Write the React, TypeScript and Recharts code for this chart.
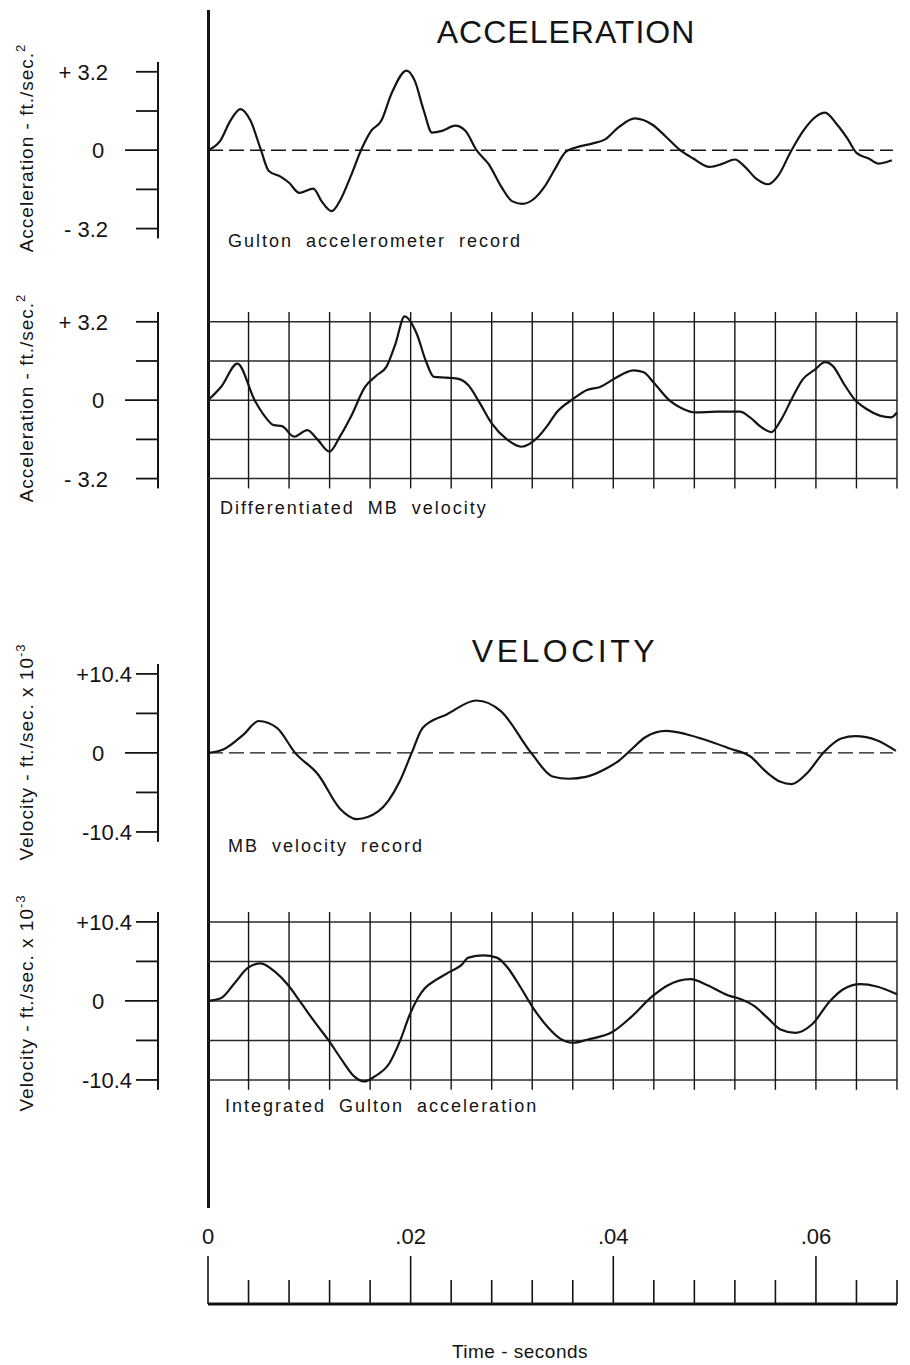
import { LineChart, Line, XAxis, YAxis, ReferenceLine } from "recharts"

const FONT = '"Liberation Sans", Arial, sans-serif'
const INK = "#141414"

// time in seconds
const gultonTime = [
  0, 0.0012, 0.0022, 0.0032, 0.0042, 0.0052, 0.006, 0.0072, 0.008, 0.009, 0.0104, 0.0112, 0.0122, 0.0131,
  0.0141, 0.0151, 0.0161, 0.0171, 0.0181, 0.0196, 0.0204, 0.0213, 0.0221, 0.0231, 0.0244, 0.0254, 0.0265,
  0.0277, 0.029, 0.03, 0.031, 0.0323, 0.0332, 0.0342, 0.0353, 0.0363, 0.0379, 0.0392, 0.0406, 0.0421,
  0.0439, 0.0452, 0.0466, 0.0479, 0.0495, 0.0508, 0.052, 0.053, 0.0541, 0.0553, 0.0563, 0.0575, 0.0588,
  0.06, 0.0609, 0.062, 0.0631, 0.064, 0.0652, 0.0662, 0.067, 0.0675,
]
const gultonAccel = [
  0, 0.38, 1.2, 1.68, 1.2, 0.04, -0.85, -1.09, -1.33, -1.74, -1.57, -2.08, -2.49, -2.0,
  -1.05, 0, 0.79, 1.2, 2.3, 3.25, 2.84, 1.61, 0.72, 0.79, 1.0, 0.79, 0,
  -0.57, -1.53, -2.08, -2.19, -1.94, -1.5, -0.8, -0.07, 0.11, 0.27, 0.44, 0.96, 1.3,
  1.03, 0.55, 0, -0.34, -0.68, -0.55, -0.38, -0.68, -1.16, -1.39, -1.03, -0.07, 0.82,
  1.37, 1.53, 1.09, 0.48, -0.11, -0.34, -0.55, -0.48, -0.41,
]

const mbDiffTime = [
  0, 0.0013, 0.0029, 0.0046, 0.0055, 0.0065, 0.0073, 0.0085, 0.0098, 0.0108, 0.012, 0.013, 0.0141,
  0.0155, 0.0166, 0.0176, 0.0185, 0.0194, 0.0206, 0.0215, 0.0223, 0.0235, 0.0246, 0.0257, 0.0268,
  0.028, 0.0295, 0.0309, 0.0326, 0.0335, 0.0344, 0.036, 0.0374, 0.0387, 0.04, 0.042, 0.043, 0.044,
  0.0456, 0.0469, 0.0481, 0.0502, 0.0525, 0.0535, 0.0546, 0.0556, 0.0566, 0.0576, 0.0587, 0.0599,
  0.0609, 0.0617, 0.0627, 0.0638, 0.065, 0.0663, 0.0674, 0.068,
]
const mbDiffAccel = [
  0, 0.55, 1.49, 0, -0.6, -1.02, -1.06, -1.49, -1.22, -1.6, -2.1, -1.5, -0.68,
  0.54, 1.0, 1.36, 2.3, 3.42, 2.71, 1.6, 0.95, 0.92, 0.88, 0.61, -0.1,
  -0.95, -1.6, -1.9, -1.49, -1.04, -0.5, 0.04, 0.42, 0.54, 0.85, 1.22, 1.14, 0.71,
  -0.03, -0.36, -0.5, -0.47, -0.47, -0.7, -1.1, -1.3, -0.77, 0.04, 0.85, 1.25,
  1.55, 1.38, 0.71, 0.04, -0.36, -0.63, -0.7, -0.5,
]

const mbVelTime = [
  0, 0.0015, 0.0035, 0.005, 0.0068, 0.0086, 0.0109, 0.013, 0.0147, 0.0168, 0.0189, 0.0201, 0.0212,
  0.0236, 0.0265, 0.0289, 0.0319, 0.034, 0.0356, 0.0373, 0.0393, 0.0406, 0.0417, 0.0432, 0.0452,
  0.0472, 0.0492, 0.0515, 0.0535, 0.0551, 0.0565, 0.0576, 0.0591, 0.0608, 0.0625, 0.0639, 0.066, 0.0679,
]
const mbVelocity = [
  0, 0.44, 2.4, 4.2, 3.3, 0, -2.9, -7.3, -8.7, -7.7, -3.8, 0, 3.3,
  5.1, 6.9, 5.5, 0, -3.1, -3.4, -3.16, -2.06, -0.97, 0.35, 2.1, 2.9,
  2.46, 1.67, 0.57, -0.44, -2.5, -3.8, -4.1, -2.7, 0.13, 1.9, 2.2, 1.67, 0.26,
]

const intTime = [
  0, 0.00126, 0.0026, 0.0039, 0.0052, 0.0066, 0.0079, 0.0092, 0.0106, 0.0119, 0.0132, 0.0144, 0.0154,
  0.0165, 0.0179, 0.019, 0.0199, 0.0207, 0.0214, 0.0225, 0.0239, 0.025, 0.0257, 0.0272, 0.0285,
  0.0295, 0.0308, 0.032, 0.0335, 0.0348, 0.036, 0.0375, 0.0399, 0.0417, 0.0439, 0.0454, 0.0476,
  0.0493, 0.0513, 0.0526, 0.0539, 0.0552, 0.0565, 0.058, 0.0596, 0.0614, 0.0627, 0.0644, 0.066, 0.068,
]
const intVelocity = [
  0, 0.35, 2.3, 4.3, 4.95, 3.85, 2.1, -0.3, -2.9, -5.2, -7.75, -9.9, -10.6,
  -9.9, -8.2, -5.1, -1.84, 0.35, 1.66, 2.76, 3.85, 4.7, 5.7, 6.0, 5.7,
  4.5, 1.9, -0.74, -3.4, -5.0, -5.5, -5.07, -4.1, -2.2, 0.66, 2.07, 2.86,
  2.07, 0.75, 0.22, -0.66, -2.2, -3.75, -4.2, -3.1, 0, 1.54, 2.2, 1.9, 0.88,
]

const accelTicks = [-3.2, -1.6, 0, 1.6, 3.2]
const accelTickLabels = ["- 3.2", "", "0", "", "+ 3.2"]
const velTicks = [-10.4, -5.2, 0, 5.2, 10.4]
const velTickLabels = ["-10.4", "", "0", "", "+10.4"]

const gridTimes = [
  0.004, 0.008, 0.012, 0.016, 0.02, 0.024, 0.028, 0.032, 0.036, 0.04, 0.044, 0.048, 0.052, 0.056, 0.06,
  0.064, 0.068,
]
const timeTicks = [0, ...gridTimes]
const timeMajor = [0, 0.02, 0.04, 0.06]
const timeLabels = ["0", ".02", ".04", ".06"]
const T_END = 0.068

const PLOT_LEFT = 158
const ZERO_X = 208
const PLOT_RIGHT = 897
const PAD = 12

function YTick(props: any) {
  const { x, y, payload, ticks, labels, labelEnd } = props
  const i = ticks.findIndex((t: number) => Math.abs(t - payload.value) < 1e-9)
  const label = labels[i]
  const len = payload.value === 0 ? 33 : 22
  return (
    <g>
      <line x1={x} x2={x - len} y1={y} y2={y} stroke={INK} strokeWidth={1.8} />
      {label && (
        <text
          x={payload.value === 0 ? x - 60 : x - labelEnd}
          y={y}
          dy="0.36em"
          textAnchor={payload.value === 0 ? "middle" : "end"}
          fontFamily={FONT}
          fontSize={22}
          fill={INK}
        >
          {label}
        </text>
      )}
    </g>
  )
}

function TimeTick(props: any) {
  const { x, y, payload } = props
  const i = timeMajor.findIndex((t) => Math.abs(t - payload.value) < 1e-9)
  const major = i >= 0
  return (
    <g>
      <line x1={x} x2={x} y1={y} y2={y - (major ? 48 : 24)} stroke={INK} strokeWidth={1.6} />
      {major && (
        <text x={x} y={y - 60} textAnchor="middle" fontFamily={FONT} fontSize={22} fill={INK}>
          {timeLabels[i]}
        </text>
      )}
    </g>
  )
}

interface PanelProps {
  plotTop: number
  plotHeight: number
  time: number[]
  values: number[]
  yMax: number
  ticks: number[]
  tickLabels: string[]
  labelEnd: number
  grid?: boolean
  dashedZero?: boolean
}

function Panel({ plotTop, plotHeight, time, values, yMax, ticks, tickLabels, labelEnd, grid, dashedZero }: PanelProps) {
  const data = time.map((t, i) => ({ t, v: values[i] }))
  return (
    <div style={{ position: "absolute", left: 0, top: plotTop - PAD }}>
      <LineChart
        width={910}
        height={plotHeight + PAD * 2}
        data={data}
        margin={{ top: PAD, bottom: PAD, left: 0, right: 910 - PLOT_RIGHT }}
      >
        <XAxis
          dataKey="t"
          type="number"
          domain={[0, T_END]}
          padding={{ left: ZERO_X - PLOT_LEFT, right: 0 }}
          hide
        />
        <YAxis
          type="number"
          width={PLOT_LEFT}
          domain={[-yMax, yMax]}
          ticks={ticks}
          interval={0}
          tickSize={0}
          tickMargin={0}
          tickLine={false}
          axisLine={{ stroke: INK, strokeWidth: 2 }}
          tick={<YTick ticks={ticks} labels={tickLabels} labelEnd={labelEnd} />}
        />
        {grid &&
          ticks.map((v) => (
            <ReferenceLine
              key={"h" + v}
              segment={[
                { x: 0, y: v },
                { x: T_END, y: v },
              ]}
              stroke="#2a2a2a"
              strokeWidth={1.5}
            />
          ))}
        {grid &&
          gridTimes.map((t) => <ReferenceLine key={"v" + t} x={t} stroke={INK} strokeWidth={1.4} />)}
        {dashedZero && (
          <ReferenceLine
            segment={[
              { x: 0, y: 0 },
              { x: 0.0676, y: 0 },
            ]}
            stroke={INK}
            strokeWidth={1.4}
            strokeDasharray="15 6"
          />
        )}
        <Line
          dataKey="v"
          type="monotone"
          stroke={INK}
          strokeWidth={2.2}
          dot={false}
          isAnimationActive={false}
        />
      </LineChart>
    </div>
  )
}

function YTitle({ cy, text, sup }: { cy: number; text: string; sup: string }) {
  return (
    <text
      x={33}
      y={cy}
      transform={`rotate(-90 33 ${cy})`}
      textAnchor="middle"
      fontFamily={FONT}
      fontSize={19}
      letterSpacing={1}
      fill={INK}
    >
      {text}
      <tspan dy={-8} fontSize={13}>
        {sup}
      </tspan>
    </text>
  )
}

const captionStyle = {
  fontFamily: FONT,
  fontSize: 18,
  letterSpacing: 2,
  wordSpacing: 6,
  fill: INK,
}

export default function App() {
  const accH = 7.2 * 24.5
  const velH = 23.4 * 7.6
  return (
    <div style={{ position: "absolute", left: 0, top: 0, width: 910, height: 1365, background: "#fff" }}>
      <div style={{ position: "absolute", left: 0, top: 0 }}>
        <LineChart
          width={910}
          height={1365}
          data={timeTicks.map((t) => ({ t }))}
          margin={{ top: 10, right: 910 - PLOT_RIGHT, bottom: 60, left: ZERO_X }}
        >
          <XAxis
            dataKey="t"
            type="number"
            domain={[0, T_END]}
            ticks={timeTicks}
            interval={0}
            height={1}
            tickSize={0}
            tickMargin={0}
            tickLine={false}
            axisLine={{ stroke: INK, strokeWidth: 3 }}
            tick={<TimeTick />}
          />
          <YAxis hide domain={[0, 1]} />
        </LineChart>
      </div>
      <div style={{ position: "absolute", left: ZERO_X - 1, top: 10, width: 2.5, height: 1198, background: INK }} />

      <Panel
        plotTop={150 - 3.6 * 24.5}
        plotHeight={accH}
        time={gultonTime}
        values={gultonAccel}
        yMax={3.6}
        ticks={accelTicks}
        tickLabels={accelTickLabels}
        labelEnd={50}
        dashedZero
      />
      <Panel
        plotTop={400 - 3.6 * 24.5}
        plotHeight={accH}
        time={mbDiffTime}
        values={mbDiffAccel}
        yMax={3.6}
        ticks={accelTicks}
        tickLabels={accelTickLabels}
        labelEnd={50}
        grid
      />
      <Panel
        plotTop={753 - 11.7 * 7.6}
        plotHeight={velH}
        time={mbVelTime}
        values={mbVelocity}
        yMax={11.7}
        ticks={velTicks}
        tickLabels={velTickLabels}
        labelEnd={26}
        dashedZero
      />
      <Panel
        plotTop={1001 - 11.7 * 7.6}
        plotHeight={velH}
        time={intTime}
        values={intVelocity}
        yMax={11.7}
        ticks={velTicks}
        tickLabels={velTickLabels}
        labelEnd={26}
        grid
      />

      <svg width={910} height={1365} style={{ position: "absolute", left: 0, top: 0, pointerEvents: "none" }}>
        <text x={566} y={43} textAnchor="middle" fontFamily={FONT} fontSize={32} letterSpacing={1} fill={INK}>
          ACCELERATION
        </text>
        <text x={565} y={662} textAnchor="middle" fontFamily={FONT} fontSize={32} letterSpacing={3.5} fill={INK}>
          VELOCITY
        </text>
        <YTitle cy={148} text="Acceleration - ft./sec." sup="2" />
        <YTitle cy={398} text="Acceleration - ft./sec." sup="2" />
        <YTitle cy={752} text="Velocity - ft./sec. x 10" sup="-3" />
        <YTitle cy={1003} text="Velocity - ft./sec. x 10" sup="-3" />
        <text x={228} y={247} {...captionStyle}>
          Gulton accelerometer record
        </text>
        <text x={220} y={514} {...captionStyle}>
          Differentiated MB velocity
        </text>
        <text x={228} y={852} {...captionStyle}>
          MB velocity record
        </text>
        <text x={225} y={1112} {...captionStyle}>
          Integrated Gulton acceleration
        </text>
        <text x={520} y={1358} textAnchor="middle" fontFamily={FONT} fontSize={19} letterSpacing={0.5} fill={INK}>
          Time - seconds
        </text>
      </svg>
    </div>
  )
}
